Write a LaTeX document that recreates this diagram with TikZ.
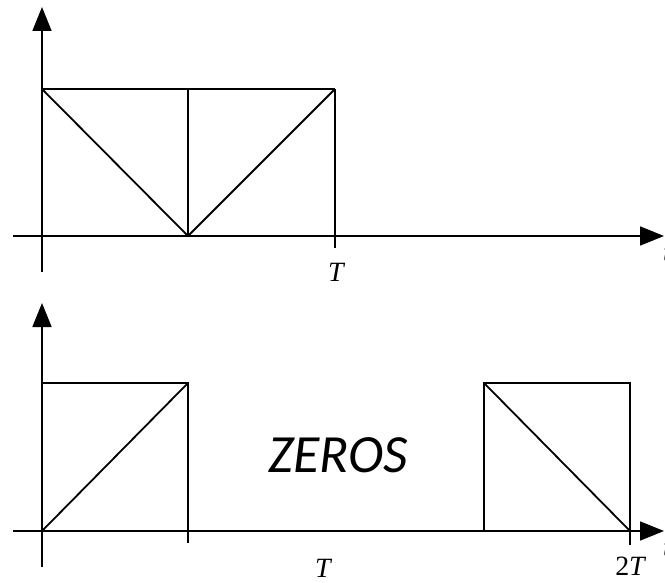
\documentclass[tikz,border=0pt]{standalone}
\usepackage{fontspec}
\setmainfont{Liberation Serif}
\newfontfamily\zerosfont{Carlito}
\usetikzlibrary{arrows.meta}

\begin{document}
\begin{tikzpicture}[x=1bp, y=-1bp,
    axis/.style={line width=1.8bp, -{Triangle[length=24bp, width=19bp]}},
    pulse/.style={line width=1.8bp},
    ticklabel/.style={font=\itshape\fontsize{28}{30}\selectfont, inner sep=0pt}
]
\useasboundingbox (0,0) rectangle (665,583);

% Grafico superior
\draw[axis] (42,272) -- (42,7);
\draw[axis] (13,236) -- (664,236);
\draw[pulse] (42,89) -- (335,89);
\draw[pulse] (188,89) -- (188,236);
\draw[pulse] (335,89) -- (335,248);
\draw[pulse] (42,89) -- (188,236) -- (335,89);
\node[ticklabel] (t1) at (336,272) {T};
\node[ticklabel] (x1) at (667,254) {t};

% Grafico inferior
\draw[axis] (42,567) -- (42,303);
\draw[axis] (13,531) -- (664,531);
\draw[pulse] (42,383) -- (188,383) -- (188,543);
\draw[pulse] (42,531) -- (188,383);
\draw[pulse] (484,531) -- (484,383) -- (630,383) -- (630,545);
\draw[pulse] (484,383) -- (630,531);
\node[ticklabel] (t2) at (323,568) {T};
\node[ticklabel] (t3) at (630,566) {{\upshape 2}T};
\node[ticklabel] (x2) at (667,549) {t};
\node[font=\zerosfont\itshape\fontsize{54}{56}\selectfont, inner sep=0pt] (zeros) at (338,455) {ZEROS};
\end{tikzpicture}
\end{document}
